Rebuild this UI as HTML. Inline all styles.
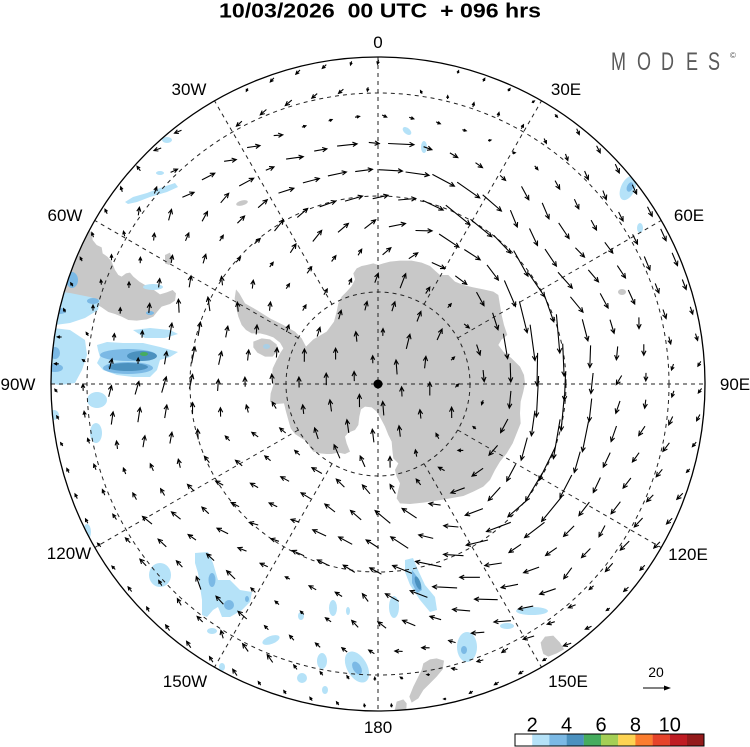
<!DOCTYPE html>
<html><head><meta charset="utf-8">
<style>html,body{margin:0;padding:0;background:#fff;}svg{display:block}</style>
</head><body>
<svg id="s" width="750" height="747" viewBox="0 0 750 747" xmlns="http://www.w3.org/2000/svg" font-family="'Liberation Sans', Arial, sans-serif">
<defs><clipPath id="c"><circle cx="378" cy="384" r="327"/></clipPath></defs>
<rect width="750" height="747" fill="#fff"/>
<g clip-path="url(#c)">
 <g fill="#c8c8c8">
  <path transform="translate(230 250) scale(0.33333)" d="M18,118 L28,130 45,160 80,180 120,205 160,225 195,245 215,265 228,290 250,268 290,245 312,215 320,185 325,160 335,140 350,125 365,108 375,88 370,70 380,55 395,48 410,45 430,40 445,45 460,40 480,35 510,32 545,32 575,38 600,48 615,62 630,75 655,75 675,95 700,105 730,112 760,118 790,125 805,135 810,165 815,195 822,225 832,255 815,268 805,285 820,305 845,325 870,350 882,375 885,400 880,425 872,455 870,490 872,520 860,550 848,580 830,610 810,635 795,660 780,690 760,710 730,725 700,738 660,745 620,752 580,758 540,762 510,760 500,745 505,720 510,700 500,680 495,660 505,640 490,625 487,600 485,575 475,555 465,530 452,505 440,485 425,472 405,470 393,478 388,500 385,525 375,540 355,548 345,560 350,580 360,605 345,612 325,608 305,612 290,612 270,610 250,605 240,592 232,575 215,565 195,552 182,535 175,510 168,485 162,460 140,462 120,455 122,430 130,405 125,385 128,355 140,330 150,310 160,295 150,278 130,262 110,255 90,250 65,250 48,240 35,225 25,200 18,170 14,145 Z"/>
  <path transform="translate(230 250) scale(0.33333)" d="M70,275 L95,265 120,268 140,283 142,303 128,320 105,320 82,308 70,292Z"/>
  <path transform="translate(50 130) scale(0.33333)" d="M100,250 L110,290 125,310 128,330 140,345 155,352 158,370 172,380 185,395 195,420 205,435 215,440 228,430 240,428 250,440 268,455 290,468 312,480 330,493 350,487 368,480 378,490 375,512 360,522 335,530 322,545 310,560 290,568 260,572 235,570 215,560 195,552 175,546 155,532 135,520 112,512 95,500 70,492 45,492 25,500 0,505 -40,505 -40,250 Z"/>
  <path transform="translate(50 130) scale(0.33333)" d="M345,375 L360,368 367,390 358,405 345,400Z"/>
  <ellipse cx="242" cy="203" rx="6" ry="2.5" transform="rotate(-15 242 203)"/>
  <ellipse cx="622" cy="292" rx="4" ry="3"/>
  <path transform="translate(380 520) scale(0.33333)" d="M130,430 L150,418 170,415 192,422 188,448 170,470 150,490 130,510 115,535 95,548 88,530 100,500 115,470 125,450Z"/>
  <path transform="translate(380 520) scale(0.33333)" d="M50,545 L70,538 80,550 78,590 40,590Z"/>
  <path transform="translate(380 520) scale(0.33333)" d="M482,368 L495,350 520,347 540,368 552,388 530,400 505,410 490,402 485,385Z"/>
 </g>
 <ellipse cx="266.5" cy="346.5" rx="3.5" ry="2.5" fill="#a9cfe6"/>
 <g fill="#b5e2f8">
  <path d="M125,202 L133,197 147,193 160,188 175,183 178,187 167,192 150,197 137,202 128,204Z"/>
  <ellipse cx="160" cy="173" rx="4" ry="2"/>
  <ellipse cx="167" cy="140" rx="5" ry="3"/>
  <ellipse cx="153" cy="287" rx="10" ry="3"/>
  <path d="M45,290 L70,293 90,297 100,300 98,310 85,318 70,323 55,325 45,322Z"/>
  <path d="M133,330 L150,328 170,330 178,334 165,338 145,338Z"/>
  <path d="M97,345 L107,342 123,343 143,343 160,347 178,352 170,357 160,360 157,370 150,377 133,377 117,375 103,370 97,363 100,357 98,350Z"/>
  <path d="M45,327 L70,330 85,340 87,355 82,370 75,383 60,385 45,383Z"/>
  <ellipse cx="97" cy="400" rx="10" ry="8"/>
  <ellipse cx="96" cy="433" rx="6" ry="10"/>
  <ellipse cx="54" cy="415" rx="5" ry="5"/>
  <ellipse cx="87" cy="532" rx="4" ry="8"/>
  <ellipse cx="160" cy="575" rx="11" ry="12"/>
  <path d="M195,553 L208,552 213,563 218,580 230,580 240,590 252,592 250,602 242,610 230,617 222,617 218,607 213,610 207,617 202,615 202,600 200,587 198,573 195,563Z"/>
  <ellipse cx="212" cy="631" rx="5" ry="3"/>
  <ellipse cx="271" cy="640" rx="9" ry="4" transform="rotate(-20 271 640)"/>
  <ellipse cx="301" cy="616" rx="3" ry="4"/>
  <ellipse cx="333" cy="608" rx="4" ry="8"/>
  <ellipse cx="348" cy="611" rx="2" ry="4"/>
  <ellipse cx="322" cy="661" rx="5" ry="8"/>
  <ellipse cx="357" cy="667" rx="10" ry="17" transform="rotate(-30 357 667)"/>
  <ellipse cx="302" cy="678" rx="5" ry="5"/>
  <ellipse cx="325" cy="690" rx="3" ry="4"/>
  <ellipse cx="222" cy="667" rx="3" ry="4"/>
  <path d="M405,560 L413,558 418,570 425,585 435,597 437,610 430,612 420,600 410,585 405,572Z"/>
  <ellipse cx="394" cy="607" rx="5" ry="11"/>
  <ellipse cx="532" cy="611" rx="16" ry="4"/>
  <ellipse cx="507" cy="626" rx="7" ry="3"/>
  <ellipse cx="467" cy="647" rx="10" ry="15"/>
  <ellipse cx="407" cy="131" rx="5" ry="3" transform="rotate(40 407 131)"/>
  <ellipse cx="424" cy="147" rx="3" ry="6"/>
  <ellipse cx="628" cy="188" rx="7" ry="13" transform="rotate(25 628 188)"/>
  <ellipse cx="640" cy="228" rx="3" ry="5"/>
 </g>
 <g fill="#7bb9e5">
  <ellipse cx="128" cy="355" rx="28" ry="6"/>
  <ellipse cx="128" cy="368" rx="25" ry="6"/>
  <ellipse cx="60" cy="311" rx="6" ry="3"/>
  <ellipse cx="93" cy="301" rx="6" ry="3"/>
  <ellipse cx="72" cy="280" rx="6" ry="8"/>
  <ellipse cx="150" cy="313" rx="4" ry="2"/>
  <ellipse cx="55" cy="368" rx="8" ry="4"/>
  <ellipse cx="55" cy="353" rx="5" ry="6"/>
  <ellipse cx="212" cy="580" rx="3.5" ry="7"/>
  <ellipse cx="229" cy="605" rx="5" ry="5"/>
  <ellipse cx="247" cy="599" rx="2" ry="3"/>
  <ellipse cx="357" cy="668" rx="4" ry="7" transform="rotate(-30 357 668)"/>
  <path d="M412,570 L418,578 422,590 417,593 412,583Z"/>
  <ellipse cx="464" cy="650" rx="3" ry="4"/>
  <ellipse cx="630" cy="187" rx="3" ry="5" transform="rotate(25 630 187)"/>
 </g>
 <g fill="#4b91bf">
  <ellipse cx="142" cy="356" rx="15" ry="5"/>
  <ellipse cx="128" cy="367" rx="20" ry="4"/>
  <ellipse cx="418" cy="583" rx="2.5" ry="7" transform="rotate(-20 418 583)"/>
 </g>
 <ellipse cx="144" cy="354" rx="4" ry="2" fill="#46ac5e"/>
</g>
<g fill="none" stroke="#222" stroke-width="1" stroke-dasharray="4 4">
 <circle cx="378" cy="384" r="92"/>
 <circle cx="378" cy="384" r="188"/>
 <circle cx="378" cy="384" r="291"/>
 <line x1="378" y1="57" x2="378" y2="711"/>
 <line x1="51" y1="384" x2="705" y2="384"/>
 <path id="mer" d=""/>
</g>
<circle cx="378" cy="384" r="327" fill="none" stroke="#000" stroke-width="1.3"/>
<path id="arr" d="" fill="none" stroke="#000" stroke-width="1.1"/>
<circle cx="378" cy="384" r="4.5" fill="#000"/>
<g font-size="17" fill="#000" text-anchor="middle">
 <text x="378" y="48">0</text>
 <text x="566" y="95">30E</text>
 <text x="689" y="221">60E</text>
 <text x="735" y="390">90E</text>
 <text x="688" y="560">120E</text>
 <text x="568" y="687">150E</text>
 <text x="378" y="733">180</text>
 <text x="185" y="687">150W</text>
 <text x="69" y="559">120W</text>
 <text x="18" y="390">90W</text>
 <text x="65" y="221">60W</text>
 <text x="189" y="95">30W</text>
</g>
<text x="219" y="17.5" font-size="20" font-weight="bold" textLength="322" lengthAdjust="spacingAndGlyphs" style="white-space:pre">10/03/2026  00 UTC  + 096 hrs</text>
<g transform="scale(0.72 1)" fill="#5a5a5a" font-size="25">
 <text x="848.6" y="70">M</text>
 <text x="884.7" y="70">O</text>
 <text x="918" y="70">D</text>
 <text x="952.8" y="70">E</text>
 <text x="983.3" y="70">S</text>
</g>
<text x="733" y="58" font-size="8" fill="#555" text-anchor="middle">©</text>
<text x="656" y="677" font-size="14" text-anchor="middle">20</text>
<path d="M643,688 L667,688" fill="none" stroke="#000" stroke-width="1"/>
<path d="M664,685.5 L671,688 L664,690.5Z" fill="#000"/>
<g stroke="none">
 <rect x="515" y="734" width="17.3" height="12" fill="#ffffff"/>
 <rect x="532.2" y="734" width="17.3" height="12" fill="#b5e2f8"/>
 <rect x="549.4" y="734" width="17.3" height="12" fill="#7bb9e5"/>
 <rect x="566.6" y="734" width="17.3" height="12" fill="#4b91bf"/>
 <rect x="583.8" y="734" width="17.3" height="12" fill="#46ac5e"/>
 <rect x="601" y="734" width="17.3" height="12" fill="#a4cf55"/>
 <rect x="618.2" y="734" width="17.3" height="12" fill="#fdd352"/>
 <rect x="635.4" y="734" width="17.3" height="12" fill="#fb7d2f"/>
 <rect x="652.6" y="734" width="17.3" height="12" fill="#e5432a"/>
 <rect x="669.8" y="734" width="17.3" height="12" fill="#bf1c23"/>
 <rect x="687" y="734" width="17" height="12" fill="#941a1b"/>
</g>
<rect x="515" y="734" width="189" height="12" fill="none" stroke="#000" stroke-width="1"/>
<g font-size="20" text-anchor="middle">
 <text x="532.2" y="731.5">2</text>
 <text x="566.6" y="731.5">4</text>
 <text x="601" y="731.5">6</text>
 <text x="635.4" y="731.5">8</text>
 <text x="669.8" y="731.5">10</text>
</g>
</svg>
<script>
(function(){
var cx=378,cy=384;
var m='';
[30,60,120,150,210,240,300,330].forEach(function(l){
 var a=l*Math.PI/180,s=Math.sin(a),c=Math.cos(a);
 m+='M'+(cx+92*s).toFixed(1)+' '+(cy-92*c).toFixed(1)+'L'+(cx+327*s).toFixed(1)+' '+(cy-327*c).toFixed(1);
});
document.getElementById('mer').setAttribute('d',m);
var S=[
[298,103,-6,5],[274,115,-6,5],[240,135,-6,5],[216,156,-5,4],[327,94,-5,4],[378,75,-1,4],[409,91,-2,-3],[440,98,0,-3],[469,108,1,-4],[498,125,1,-4],[524,140,2,-4],[555,150,2,6],
[341,130,3,-2],[312,137,3,-2],[260,161,4,-3],[387,127,4,2],[416,132,4,2],[442,139,4,3],[469,149,4,3],[498,161,4,4],
[400,152,25,1],[418,173,21,3],[455,178,20,11],[405,218,15,-3],[460,205,22,18],[492,225,19,16],[463,235,20,14],[513,275,13,24],[545,278,15,21],[525,220,5,15],[555,250,10,15],[584,260,8,8],[577,287,13,13],[602,300,7,13],[611,268,8,10],[630,283,6,13],[650,266,5,12],[600,200,3,8],[625,225,4,8],[660,300,3,8],[683,330,2,6],
[270,150,15,-3],[305,150,17,-2],[340,150,20,-2],[300,185,15,-4],[340,190,17,-4],[280,220,8,-10],[320,230,8,-10],[360,225,10,-8],[297,255,5,-8],[323,262,4,-5],[273,275,3,-4],[247,272,4,-4],[351,265,2,-5],
[457,258,13,7],[477,312,6,12],[488,280,10,13],
[520,310,7,28],[520,340,5,32],[550,340,3,35],[545,400,-2,38],[527,380,-1,30],[490,340,3,13],[497,372,1,12],[497,400,-1,12],[575,385,-1,25],[598,385,-2,18],[620,385,-5,8],[650,385,0,7],[690,380,-3,4],[640,330,0,10],
[522,410,-2,20],[518,440,-5,20],[505,470,-8,15],[492,430,-8,10],[483,455,-8,8],[460,475,-13,5],
[560,440,-6,35],[540,470,-15,30],[585,470,-5,18],[615,480,-7,9],[650,450,-6,8],[660,500,-6,6],[630,540,-8,8],[600,520,-10,12],[690,470,-3,3],[680,540,-4,4],[650,580,-4,4],[545,505,-18,22],[520,530,-20,15],[495,535,-22,8],
[390,533,-15,-13],[408,554,-17,-8],[425,575,-25,-5],[449,592,-22,-1],[476,602,-22,-1],[495,608,-20,0],[439,544,-12,-2],[463,562,-19,-1],[488,574,-15,2],[515,578,-15,3],[545,579,-15,5],[522,551,-10,7],[552,551,-10,7],[574,570,-7,10],[585,545,-8,8],[605,532,-5,10],[408,603,-13,-7],[435,616,-10,-3],[460,626,-10,-2],[490,628,-12,2],[540,633,-10,3],[415,650,-7,0],[460,650,-5,-2],[500,660,-5,4],[560,620,-6,2],[600,600,-3,2],[380,690,0,-3],[430,690,-2,0],[480,690,-3,2],[540,670,-3,2],
[163,525,-9,-7],[192,532,-7,-5],[219,537,-10,-5],[250,537,-8,-2],[283,528,-7,-2],[337,528,-13,-7],[362,533,-12,-10],[312,544,-12,-5],[343,554,-12,-5],[375,556,-10,-5],[317,570,-10,-5],[353,578,-10,-7],[167,553,-7,-7],[195,563,-4,-4],[223,566,-8,-8],[252,563,-7,-3],[288,586,-4,-2],[200,590,-4,-12],[230,595,-7,-7],[257,593,-4,-4],[325,598,-5,-3],[367,605,-5,-7],[245,620,-8,-7],[273,618,-3,-3],[300,610,-3,-3],[197,618,-5,-5],[218,633,-2,-7],[243,647,-5,-7],[270,655,-5,-7],[212,662,-3,-5],[270,680,-2,-3],[300,690,-2,-3],[330,700,-2,-3],[160,600,-2,-4],[110,560,-3,-3],[80,520,-2,-4],
[347,447,-5,-13],[323,415,-3,-11],[235,430,-4,-4],[265,432,-6,-4],[285,457,-4,-4],[245,460,-6,-5],[303,477,-10,-4],[325,490,-8,-7],[350,500,-7,-8],[343,470,-7,-7],[267,482,-7,-4],[235,482,-7,-3],[200,500,-6,-6],[150,480,-3,-6],[110,470,-2,-5],
[230,153,13,-2],[257,153,13,-2],[190,185,12,-3],[217,182,13,-7],[247,183,13,-7],[185,210,5,-10],[215,207,5,-10],[243,205,7,-7],[163,222,2,-10],[187,240,3,-7],[213,235,3,-5],[242,240,5,-4],[158,250,0,-5],[188,270,2,-10],[200,300,-2,-13],[228,295,-2,-8],[255,295,0,-8],[187,343,3,-17],[215,327,2,-10],[205,365,3,-12],[182,380,3,-13],[155,395,5,-15],[205,400,0,-10],[228,410,0,-8],[140,417,2,-13],[183,415,0,-10],[160,437,2,-10],[126,375,3,-10],[140,355,0,-5],[100,300,0,-5],[60,350,-4,0],[60,440,-2,-3],[165,141,-7,3],[143,165,-3,-4],[110,220,-2,-4],[80,280,-2,-3],[120,260,0,-5],
[402,283,5,-13],[423,335,5,-15],[350,335,-1,-9],[338,355,0,-10],[315,368,0,-12],[401,363,-1,-13],[437,388,0,-12],[457,410,0,-10],[356,412,0,-12],[384,420,-1,-13],[313,398,0,-7],[340,397,0,-10],[255,297,0,-10],[290,300,3,-4],[318,295,3,-5],[325,318,3,-8],[378,345,0,-6],[440,305,3,-4],[460,340,4,-3],[460,385,3,-3],[470,410,-2,-3],[468,435,-2,-4],[410,450,-1,-6],[430,460,-3,-6],[385,460,0,-10],[410,305,3,-8],[378,300,2,-8],[378,384,0,-5]
];
var rings=[322,295,268,241,214,187,160,133,106,79,52,25];
var out='',ca=Math.cos(0.45),sa=Math.sin(0.45),K=1.12;
rings.forEach(function(r,ri){
 var n=Math.max(6,Math.round(2*Math.PI*r/27));
 var off=(ri*0.618)%1;
 for(var k=0;k<n;k++){
  var a=2*Math.PI*(k+off)/n;
  var x=cx+r*Math.sin(a),y=cy-r*Math.cos(a);
  var sw=0,sx=0,sy=0;
  for(var i=0;i<S.length;i++){
   var dx=S[i][0]-x,dy=S[i][1]-y,d2=dx*dx+dy*dy+30;
   var w=1/(d2*d2);sw+=w;sx+=w*S[i][2];sy+=w*S[i][3];
  }
  var vx=K*sx/sw,vy=K*sy/sw,L=Math.sqrt(vx*vx+vy*vy);
  if(L<2.5)continue;
  var x0=x-vx/2,y0=y-vy/2,x1=x+vx/2,y1=y+vy/2;
  var h=Math.min(5,0.45*L+1),ux=vx/L,uy=vy/L;
  var hx1=x1-h*(ux*ca-uy*sa),hy1=y1-h*(uy*ca+ux*sa);
  var hx2=x1-h*(ux*ca+uy*sa),hy2=y1-h*(uy*ca-ux*sa);
  out+='M'+x0.toFixed(1)+' '+y0.toFixed(1)+'L'+x1.toFixed(1)+' '+y1.toFixed(1)+
       'M'+hx1.toFixed(1)+' '+hy1.toFixed(1)+'L'+x1.toFixed(1)+' '+y1.toFixed(1)+'L'+hx2.toFixed(1)+' '+hy2.toFixed(1);
 }
});
document.getElementById('arr').setAttribute('d',out);
})();
</script>
</body></html>
